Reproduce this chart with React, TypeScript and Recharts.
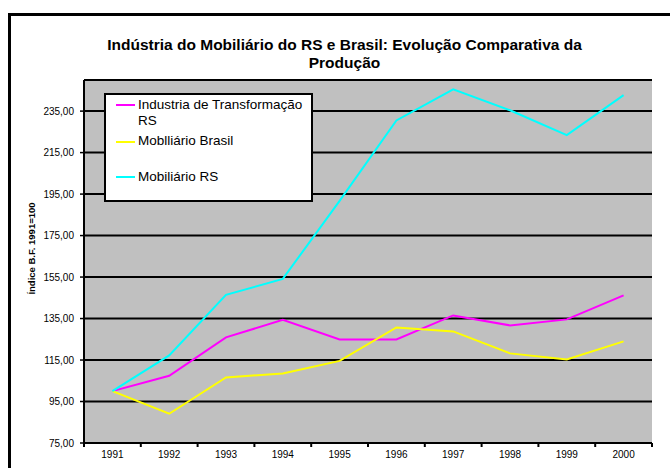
import React from 'react';
import { LineChart, Line, XAxis, YAxis, CartesianGrid, Legend } from 'recharts';

const YEARS = [1991, 1992, 1993, 1994, 1995, 1996, 1997, 1998, 1999, 2000];
const IND_RS = [100, 107.4, 125.9, 134.4, 124.9, 124.9, 136.5, 131.7, 134.6, 146.2];
const MOB_BRASIL = [100, 89.1, 106.6, 108.5, 114.6, 130.7, 128.8, 118.2, 115.3, 124.0];
const MOB_RS = [100, 117.2, 146.4, 154.1, 191.7, 230.5, 245.5, 235.4, 223.4, 242.7];
const Y_TICKS = [75, 95, 115, 135, 155, 175, 195, 215, 235];
const Y_DOMAIN = [75, 250];
const SERIES_NAMES = ['Industria de Transformação RS', 'Moblliário Brasil', 'Mobiliário RS'];
const TITLE_LINES = ['Indústria do Mobiliário do RS e Brasil: Evolução Comparativa da', 'Produção'];
const Y_LABEL = 'Índice B.F. 1991=100';

const data = YEARS.map((year, i) => ({
  year,
  ind: IND_RS[i],
  bra: MOB_BRASIL[i],
  rs: MOB_RS[i],
}));

const X_DOMAIN = [YEARS[0] - 0.5, YEARS[YEARS.length - 1] + 0.5];
const X_TICKS = [...YEARS.map((y) => y - 0.5), YEARS[YEARS.length - 1] + 0.5, ...YEARS];

const FONT = 'Arial, "Liberation Sans", sans-serif';

const XTick = (props: any) => {
  const { x, y, payload } = props;
  const v = payload.value;
  if (Number.isInteger(v)) {
    return (
      <text x={x} y={y + 11} textAnchor="middle" fontSize={10} fontFamily={FONT} fill="#000">
        {v}
      </text>
    );
  }
  return <line x1={x} x2={x} y1={y - 4} y2={y} stroke="#000" strokeWidth={2} />;
};

const fmt = (v: number) => v.toFixed(2).replace('.', ',');

const YLabel = (props: any) => {
  const vb = props.viewBox || {};
  const cx = (vb.x || 0) + 31;
  const cy = (vb.y || 0) + (vb.height || 0) / 2 - 13;
  return (
    <text
      x={cx}
      y={cy}
      transform={`rotate(-90 ${cx} ${cy})`}
      textAnchor="middle"
      dominantBaseline="central"
      fontSize={9.5}
      fontWeight="bold"
      fontFamily={FONT}
      fill="#000"
    >
      {Y_LABEL}
    </text>
  );
};

const ENTRY_TOPS = [1.6, 38.3, 74];
const LegendContent = (props: any) => {
  const payload = [...(props.payload || [])].sort(
    (a: any, b: any) => SERIES_NAMES.indexOf(a.value) - SERIES_NAMES.indexOf(b.value)
  );
  return (
    <div
      style={{
        position: 'relative',
        width: 209,
        height: 109,
        boxSizing: 'border-box',
        border: '2px solid #000',
        background: '#fff',
        fontFamily: FONT,
        fontSize: 13.5,
        lineHeight: '16.7px',
        color: '#000',
      }}
    >
      {payload.map((p: any, i: number) => (
        <div key={i} style={{ position: 'absolute', left: 0, top: ENTRY_TOPS[i], width: 205 }}>
          <div
            style={{
              position: 'absolute',
              left: 10,
              top: 7.3,
              width: 19,
              height: 2,
              background: p.color,
            }}
          />
          <div style={{ position: 'absolute', left: 32, top: 0, width: 170, textAlign: 'left' }}>{p.value}</div>
        </div>
      ))}
    </div>
  );
};

export default function App() {
  return (
    <div
      style={{
        position: 'fixed',
        left: 0,
        top: 0,
        width: 670,
        height: 468,
        overflow: 'hidden',
        background: '#fff',
      }}
    >
      <style>{`html, body { overflow: hidden; }`}</style>
      <div
        style={{
          position: 'absolute',
          left: 8,
          top: 13,
          width: 700,
          height: 500,
          borderLeft: '3px solid #000',
          borderTop: '3px solid #000',
          boxSizing: 'border-box',
        }}
      />
      <div
        style={{
          position: 'absolute',
          left: 0,
          top: 36,
          width: 689,
          textAlign: 'center',
          fontFamily: FONT,
          fontWeight: 'bold',
          fontSize: 15.5,
          lineHeight: '18px',
          color: '#000',
        }}
      >
        {TITLE_LINES.map((t, i) => (
          <div key={i}>{t}</div>
        ))}
      </div>
      <div style={{ position: 'absolute', left: 0, top: 0 }}>
        <LineChart width={670} height={468} data={data} margin={{ top: 80, right: 18, bottom: 0, left: 0 }}>
          <CartesianGrid vertical={false} stroke="#000" strokeWidth={2} fill="#C0C0C0" fillOpacity={1} />
          <XAxis
            dataKey="year"
            type="number"
            domain={X_DOMAIN}
            ticks={X_TICKS}
            interval={0}
            height={25}
            tickSize={4}
            tickMargin={0}
            tickLine={false}
            tick={<XTick />}
            axisLine={{ stroke: '#000', strokeWidth: 2 }}
            allowDecimals
          />
          <XAxis
            xAxisId="top"
            orientation="top"
            dataKey="year"
            type="number"
            domain={X_DOMAIN}
            height={0}
            tick={false}
            tickLine={false}
            axisLine={{ stroke: '#808080', strokeWidth: 2 }}
          />
          <YAxis
            domain={Y_DOMAIN}
            ticks={Y_TICKS}
            interval={0}
            width={84}
            tickSize={4}
            tickMargin={6}
            tickFormatter={fmt}
            tick={{ fontSize: 10, fontFamily: FONT, fill: '#000' }}
            tickLine={{ stroke: '#000', strokeWidth: 1.5 }}
            axisLine={{ stroke: '#000', strokeWidth: 2 }}
            label={<YLabel />}
            allowDataOverflow
          />
          <YAxis
            yAxisId="right"
            orientation="right"
            domain={Y_DOMAIN}
            width={0}
            tick={false}
            tickLine={false}
            axisLine={{ stroke: '#808080', strokeWidth: 2 }}
          />
          <Legend
            layout="vertical"
            align="center"
            verticalAlign="middle"
            content={<LegendContent />}
            wrapperStyle={{ position: 'absolute', left: 104, top: 93, width: 209, height: 109 }}
          />
          <Line
            dataKey="ind"
            name={SERIES_NAMES[0]}
            stroke="#FF00FF"
            strokeWidth={2}
            dot={false}
            isAnimationActive={false}
          />
          <Line
            dataKey="bra"
            name={SERIES_NAMES[1]}
            stroke="#FFFF00"
            strokeWidth={2}
            dot={false}
            isAnimationActive={false}
          />
          <Line
            dataKey="rs"
            name={SERIES_NAMES[2]}
            stroke="#00FFFF"
            strokeWidth={2}
            dot={false}
            isAnimationActive={false}
          />
        </LineChart>
      </div>
    </div>
  );
}
